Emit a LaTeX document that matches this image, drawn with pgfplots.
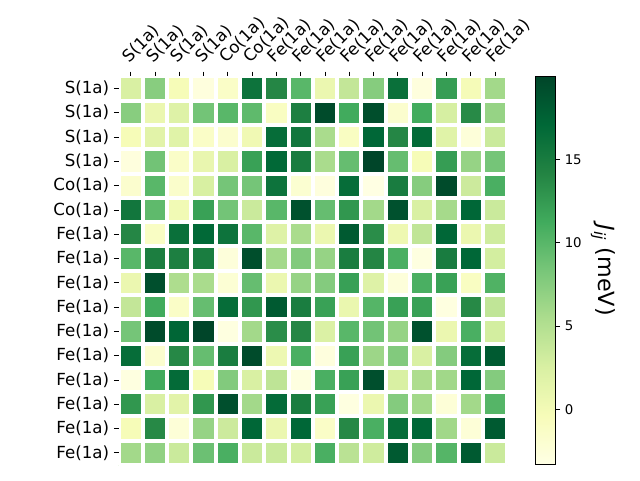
\documentclass[border=0pt]{standalone}
\usepackage{fontspec}
\setmainfont{DejaVu Sans}
\usepackage{pgfplots}
\pgfplotsset{compat=1.18}
\begin{document}
\begin{tikzpicture}
\useasboundingbox (0,0) rectangle (480pt,360pt);
\begin{axis}[
    at={(88.9pt,11.25pt)}, anchor=south west,
    width=291.5pt, height=291.5pt, scale only axis,
    xmin=-0.5, xmax=15.5, ymin=-0.5, ymax=15.5,
    enlargelimits=false,
    axis x line*=top, axis y line*=left,
    axis line style={draw=none},
    axis on top,
    xtick={0,...,15}, ytick={0,...,15},
    xticklabels={S(1a),S(1a),S(1a),S(1a),Co(1a),Co(1a),Fe(1a),Fe(1a),Fe(1a),Fe(1a),Fe(1a),Fe(1a),Fe(1a),Fe(1a),Fe(1a),Fe(1a)},
    yticklabels={Fe(1a),Fe(1a),Fe(1a),Fe(1a),Fe(1a),Fe(1a),Fe(1a),Fe(1a),Fe(1a),Fe(1a),Co(1a),Co(1a),S(1a),S(1a),S(1a),S(1a)},
    xticklabel style={rotate=45, anchor=south west, font=\fontsize{12.5}{14}\selectfont},
    yticklabel style={font=\fontsize{12.5}{14}\selectfont},
    tick align=outside, major tick length=3.5pt,
    tick style={black, line width=0.6pt},
    minor xtick={-0.5,0.5,...,15.5}, minor ytick={-0.5,0.5,...,15.5},
    minor tick length=0pt,
    xminorgrids, yminorgrids,
    minor grid style={white, line width=3pt},
    colormap={YlGn}{rgb255=(255,255,229) rgb255=(247,252,185) rgb255=(217,240,163) rgb255=(173,221,142) rgb255=(120,198,121) rgb255=(65,171,93) rgb255=(35,132,67) rgb255=(0,104,55) rgb255=(0,69,41)},
    point meta min=-3.3, point meta max=20,
    colorbar,
    colorbar style={
        at={(parent axis.north east)}, anchor=north west, xshift=12.6pt,
        width=15pt, height=291pt, scale only axis,
        ytick={0,5,10,15}, ytick pos=right, yticklabel pos=right,
        tick align=outside, major tick length=3.5pt,
        tick style={black, line width=0.6pt},
        axis line style={line width=0.6pt},
        yticklabel style={font=\fontsize{10}{12}\selectfont},
        /pgf/number format/assume math mode=true,
        ylabel={\textit{J}\textsubscript{\textit{ij}} (meV)},
        ylabel style={rotate=180, font=\fontsize{16.7}{20}\selectfont},
    },
]
\addplot[matrix plot*, mesh/cols=16, point meta=explicit] coordinates {
(0,15)[2.5] (1,15)[7.5] (2,15)[-0.3] (3,15)[-2.8] (4,15)[-1.3] (5,15)[16] (6,15)[14] (7,15)[10] (8,15)[0.8] (9,15)[4] (10,15)[7.6] (11,15)[16.3] (12,15)[-2.8] (13,15)[12.3] (14,15)[-0.2] (15,15)[6]
(0,14)[7.5] (1,14)[0.8] (2,14)[2] (3,14)[8.6] (4,14)[10] (5,14)[9.7] (6,14)[-1] (7,14)[14.7] (8,14)[19.5] (9,14)[11.3] (10,14)[19.3] (11,14)[-1.8] (12,14)[11.2] (13,14)[2.7] (14,14)[13.7] (15,14)[6.7]
(0,13)[-0.3] (1,13)[1.7] (2,13)[1.8] (3,13)[-1.3] (4,13)[-1.8] (5,13)[0.3] (6,13)[16.6] (7,13)[15.6] (8,13)[5.6] (9,13)[-1] (10,13)[17.2] (11,13)[14] (12,13)[16.8] (13,13)[1.8] (14,13)[-2.5] (15,13)[3.5]
(0,12)[-2.8] (1,12)[8.7] (2,12)[-1.4] (3,12)[1] (4,12)[2.5] (5,12)[12] (6,12)[17] (7,12)[15] (8,12)[5.6] (9,12)[9.3] (10,12)[20] (11,12)[9.3] (12,12)[-0.3] (13,12)[12.3] (14,12)[6.7] (15,12)[8.5]
(0,11)[-1.8] (1,11)[10] (2,11)[-1.6] (3,11)[2.6] (4,11)[8.5] (5,11)[8.5] (6,11)[16] (7,11)[-2] (8,11)[-2.8] (9,11)[16.6] (10,11)[-3.2] (11,11)[15] (12,11)[7.6] (13,11)[19.5] (14,11)[3.4] (15,11)[10.8]
(0,10)[15.6] (1,10)[9.7] (2,10)[0.2] (3,10)[12] (4,10)[8.6] (5,10)[3.5] (6,10)[10] (7,10)[19] (8,10)[9.3] (9,10)[12.8] (10,10)[6] (11,10)[19] (12,10)[2.5] (13,10)[5.8] (14,10)[17.2] (15,10)[3.5]
(0,9)[14] (1,9)[-1.1] (2,9)[16.3] (3,9)[17] (4,9)[16] (5,9)[10] (6,9)[2] (7,9)[5.6] (8,9)[0.8] (9,9)[18.3] (10,9)[13.5] (11,9)[0.5] (12,9)[4.2] (13,9)[17.2] (14,9)[0.8] (15,9)[3.2]
(0,8)[10] (1,8)[14.8] (2,8)[14.7] (3,8)[14.9] (4,8)[-2.6] (5,8)[19.3] (6,8)[6] (7,8)[7.8] (8,8)[6.7] (9,8)[14.9] (10,8)[14.1] (11,8)[10.8] (12,8)[-3] (13,8)[15] (14,8)[17.2] (15,8)[2.9]
(0,7)[0.8] (1,7)[19.2] (2,7)[5.4] (3,7)[5.6] (4,7)[-2.2] (5,7)[9.3] (6,7)[0.8] (7,7)[6.7] (8,7)[7.7] (9,7)[12.1] (10,7)[2] (11,7)[-2.6] (12,7)[10.8] (13,7)[12] (14,7)[-1] (15,7)[10.5]
(0,6)[4] (1,6)[11.3] (2,6)[-1.3] (3,6)[9.3] (4,6)[16.6] (5,6)[12.8] (6,6)[18.3] (7,6)[14.9] (8,6)[12] (9,6)[0.9] (10,6)[10.2] (11,6)[12] (12,6)[12] (13,6)[-3] (14,6)[13.8] (15,6)[4.2]
(0,5)[8.5] (1,5)[19.5] (2,5)[17.3] (3,5)[20] (4,5)[-3] (5,5)[6] (6,5)[13.5] (7,5)[14] (8,5)[2.3] (9,5)[10] (10,5)[8.7] (11,5)[6.7] (12,5)[19] (13,5)[0.8] (14,5)[10.8] (15,5)[2.9]
(0,4)[16.6] (1,4)[-1.8] (2,4)[13.9] (3,4)[9.3] (4,4)[14.9] (5,4)[19.5] (6,4)[0.6] (7,4)[10.8] (8,4)[-2.8] (9,4)[12] (10,4)[6.3] (11,4)[7.8] (12,4)[2.5] (13,4)[7.7] (14,4)[16.6] (15,4)[18.3]
(0,3)[-3] (1,3)[11.3] (2,3)[16.8] (3,3)[-0.3] (4,3)[7.8] (5,3)[2.5] (6,3)[4.3] (7,3)[-3] (8,3)[10.8] (9,3)[12] (10,3)[19.2] (11,3)[2.5] (12,3)[5.4] (13,3)[6.1] (14,3)[17.2] (15,3)[7.7]
(0,2)[12.8] (1,2)[2.5] (2,2)[1.7] (3,2)[12.8] (4,2)[19.2] (5,2)[6] (6,2)[16.8] (7,2)[14.9] (8,2)[12] (9,2)[-3] (10,2)[0.8] (11,2)[7.7] (12,2)[6] (13,2)[-2.4] (14,2)[6] (15,2)[10.2]
(0,1)[-0.3] (1,1)[13.8] (2,1)[-2.4] (3,1)[6.7] (4,1)[3.4] (5,1)[17.2] (6,1)[0.8] (7,1)[17.2] (8,1)[-1.3] (9,1)[13.9] (10,1)[10.8] (11,1)[16.6] (12,1)[17.2] (13,1)[6.1] (14,1)[-2.4] (15,1)[18.3]
(0,0)[6] (1,0)[7] (2,0)[3.5] (3,0)[9] (4,0)[10.8] (5,0)[3.5] (6,0)[3.5] (7,0)[2.9] (8,0)[10.8] (9,0)[4.6] (10,0)[3.2] (11,0)[18.3] (12,0)[7.7] (13,0)[10.2] (14,0)[18.3] (15,0)[3.5]
};
\end{axis}
\end{tikzpicture}
\end{document}
